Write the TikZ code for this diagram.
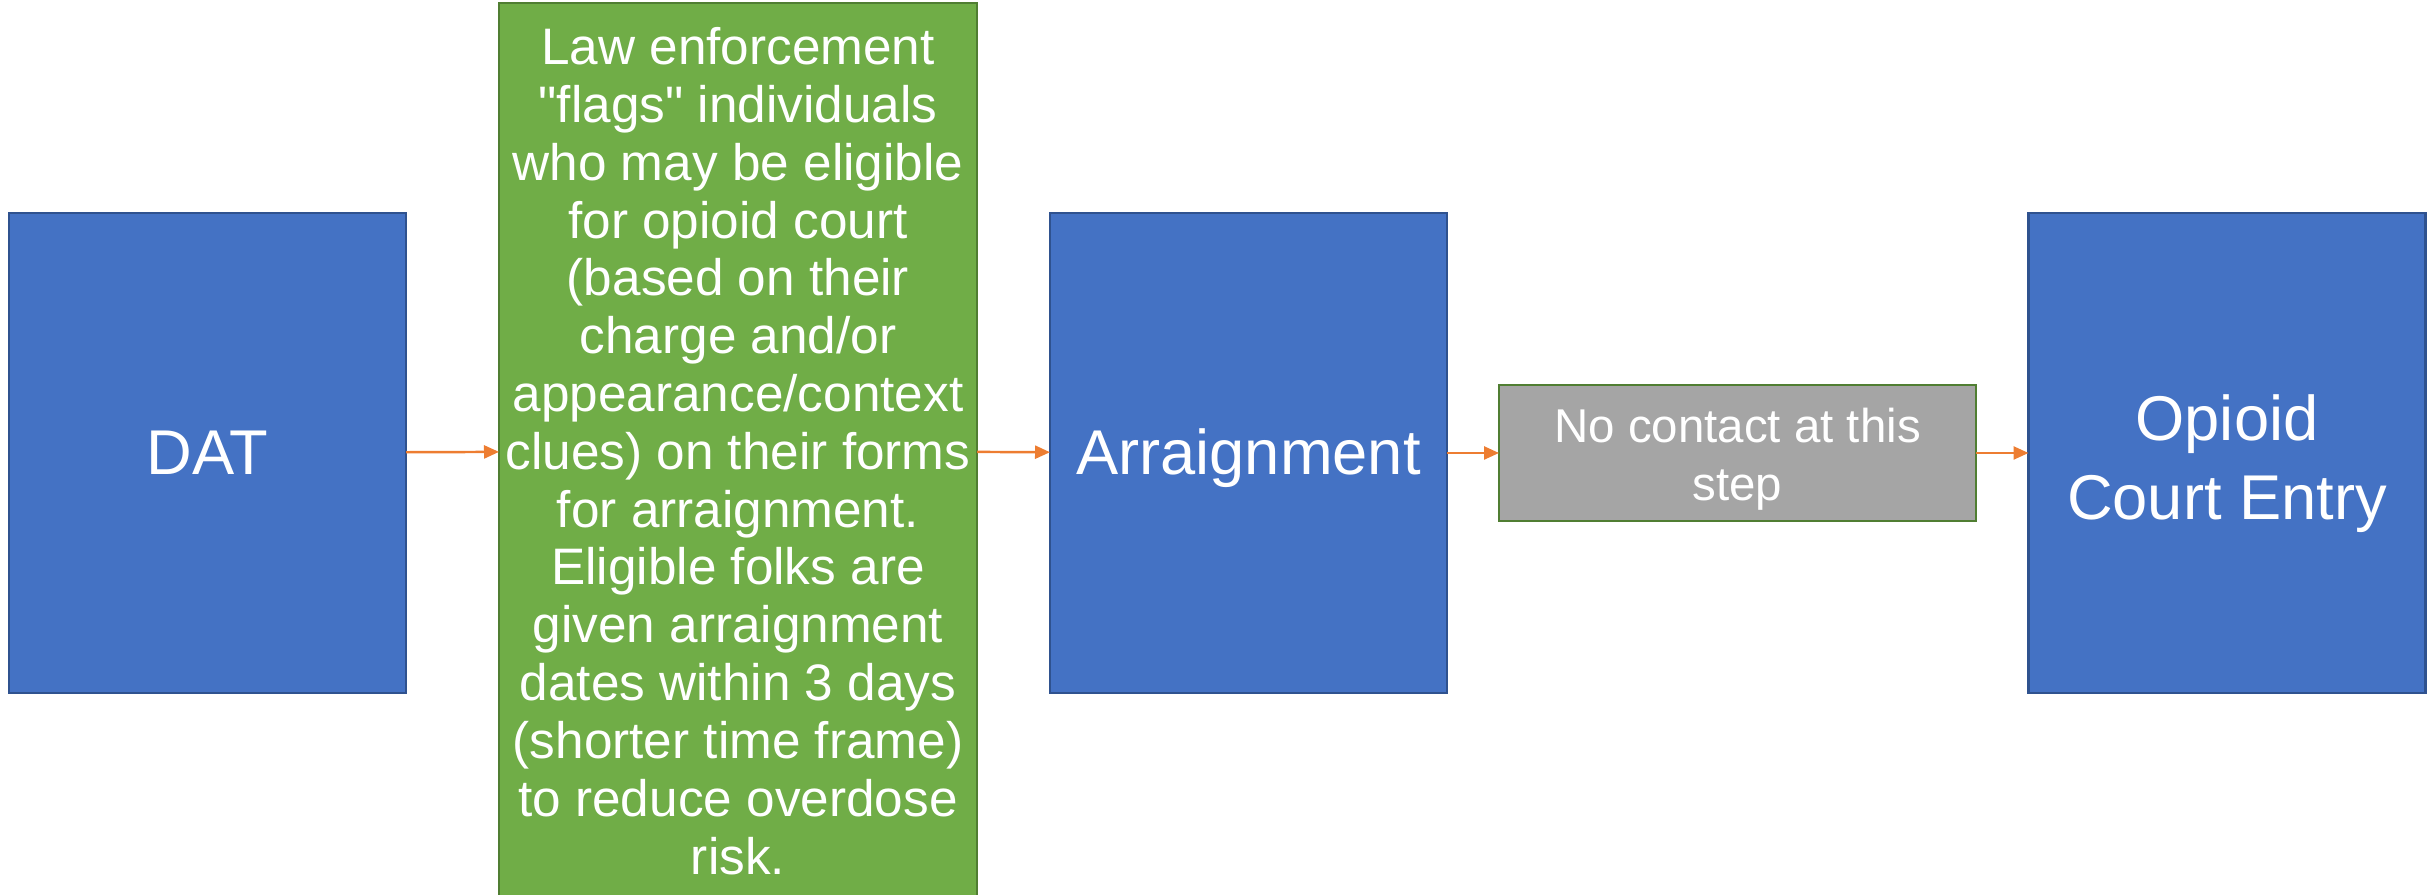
\documentclass[tikz,border=0pt]{standalone}
\usepackage{fontspec}
\setmainfont{Liberation Sans}
\usepackage{xcolor}
\usetikzlibrary{arrows.meta}
\definecolor{boxblue}{HTML}{4472C4}
\definecolor{edgeblue}{HTML}{2F528F}
\definecolor{boxgreen}{HTML}{70AD47}
\definecolor{edgegreen}{HTML}{507E32}
\definecolor{boxgray}{HTML}{A5A5A5}
\definecolor{arroworange}{HTML}{ED7D31}
\newcommand{\linestrut}[1][1.117em]{\rule[-0.212em]{0pt}{#1}}

\begin{document}
\begin{tikzpicture}[
    stage/.style = {rectangle, draw = edgeblue, fill = boxblue, line width = 0.8pt, text = white, inner sep = 0pt, outer sep = 0pt, minimum width = 3.97cm, minimum height = 4.80cm, align = center, font = \fontsize{18}{22.4}\selectfont},
    note/.style = {rectangle, draw = edgegreen, fill = boxgreen, line width = 0.8pt, text = white, inner sep = 0pt, outer sep = 0pt, align = center},
    flow/.style = {-{Triangle[length = 0.15cm, width = 0.13cm]}, color = arroworange, line width = 0.7pt}
]
            \useasboundingbox (0, 0) rectangle (24.36, 8.95);

            \node[stage] (dat) at (2.075, 4.42) {\linestrut DAT};
            \node[note, minimum width = 4.78cm, minimum height = 8.96cm, font = \fontsize{14.6}{16.45}\selectfont] (flag) at (7.38, 4.44) {Law enforcement\\ \textquotedbl flags\textquotedbl{} individuals\\ who may be eligible\\ for opioid court\\ (based on their\\ charge and/or\\ appearance/context\\ clues) on their forms\\ for arraignment.\\ Eligible folks are\\ given arraignment\\ dates within 3 days\\ (shorter time frame)\\ to reduce overdose\\ risk.};
            \node[stage] (arraign) at (12.485, 4.42) {\linestrut Arraignment};
            \node[note, fill = boxgray, minimum width = 4.77cm, minimum height = 1.36cm, font = \fontsize{13.5}{16.5}\selectfont] (nocontact) at (17.375, 4.42) {\linestrut[1.2em]No contact at this\\ step\linestrut};
            \node[stage] (entry) at (22.27, 4.42) {\linestrut[1.28em]Opioid\\ Court Entry\linestrut};

            \draw[flow] (dat) -- (flag);
            \draw[flow] (flag) -- (arraign);
            \draw[flow] (arraign) -- (nocontact);
            \draw[flow] (nocontact) -- (entry);
        \end{tikzpicture}
\end{document}
